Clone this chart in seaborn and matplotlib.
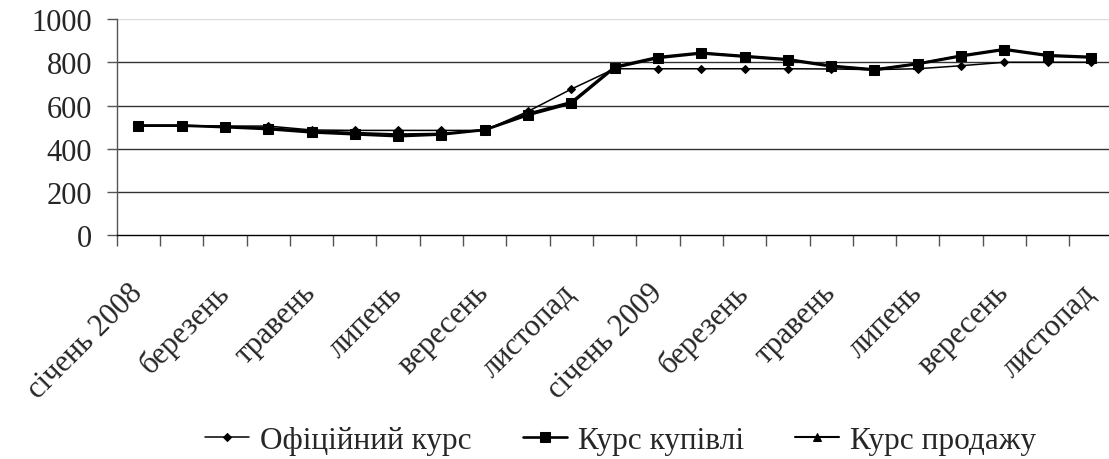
import matplotlib
matplotlib.use("Agg")
import matplotlib.pyplot as plt
import matplotlib.transforms as mtransforms
import seaborn as sns
import pandas as pd
import numpy as np

months = ["січень 2008", "лютий", "березень", "квітень", "травень", "червень",
          "липень", "серпень", "вересень", "жовтень", "листопад", "грудень",
          "січень 2009", "лютий", "березень", "квітень", "травень", "червень",
          "липень", "серпень", "вересень", "жовтень", "листопад"]
official = [505, 505, 505, 505, 487, 485, 485, 485, 485, 573, 676, 770,
            770, 770, 770, 770, 769, 766, 770, 784, 800, 800, 800]
buy = [507, 507, 500, 491, 476, 467, 458, 466, 487, 556, 610, 775,
       820, 841, 826, 811, 781, 764, 792, 828, 858, 830, 822]
sell = [508, 508, 503, 496, 482, 474, 467, 470, 488, 563, 617, 780,
        825, 845, 830, 815, 785, 768, 795, 832, 862, 834, 826]
series_names = ["Офіційний курс", "Курс купівлі", "Курс продажу"]

sns.set_theme(style="white")
plt.rcParams["font.family"] = ["Liberation Serif", "DejaVu Serif"]

idx = np.arange(len(months))
df = pd.DataFrame({"x": np.tile(idx, 3),
                   "value": official + buy + sell,
                   "series": np.repeat(series_names, len(months))})

fig = plt.figure(figsize=(11.09, 4.6), dpi=100)
ax = fig.add_axes([0.1052, 0.4863, 0.8981, 0.4702])

styles = {
    "Офіційний курс": dict(marker="D", markersize=4.5, linewidth=1.1),
    "Курс купівлі": dict(marker="s", markersize=7.5, linewidth=1.9),
    "Курс продажу": dict(marker="^", markersize=5.5, linewidth=1.5),
}
for name in series_names:
    sub = df[df["series"] == name]
    sns.lineplot(data=sub, x="x", y="value", ax=ax, color="black",
                 label=name, markeredgecolor="black", markerfacecolor="black",
                 **styles[name])

ax.set_xlim(-0.5, len(months) - 0.5)
ax.set_ylim(0, 1000)
ax.set_yticks(np.arange(0, 1001, 200))
ax.set_xticks(idx[::2])
ax.set_xticklabels(months[::2], rotation=45, ha="right", va="center",
                   rotation_mode="anchor", fontsize=22)
offset = mtransforms.ScaledTranslation(-0.10, 0, fig.dpi_scale_trans)
for lbl in ax.get_xticklabels():
    lbl.set_transform(lbl.get_transform() + offset)
ax.set_xticks(np.arange(-0.5, len(months), 1), minor=True)
ax.tick_params(axis="x", which="major", length=0, pad=38)
ax.tick_params(axis="x", which="minor", length=8, width=1, color="#555555", direction="out", bottom=True)
ax.tick_params(axis="y", length=7.5, width=1, color="#555555", direction="out", left=True, labelsize=22, pad=10)
ax.set_xlabel("")
ax.set_ylabel("")

for v in [200, 400, 600, 800]:
    ax.axhline(v, color="#333333", linewidth=1.0, zorder=0)
ax.axhline(1000, color="#dddddd", linewidth=1.0, zorder=0)

for s in ["top", "right"]:
    ax.spines[s].set_visible(False)
ax.spines["left"].set_color("#555555")
ax.spines["left"].set_linewidth(1.0)
ax.spines["bottom"].set_color("black")
ax.spines["bottom"].set_linewidth(1.0)

ax.legend(loc="center", bbox_to_anchor=(0.506, -0.95), ncol=3, frameon=False,
          fontsize=22.5, handlelength=1.41, columnspacing=1.63, handletextpad=0.35,
          bbox_transform=ax.transAxes)

fig.savefig("out.png", dpi=100)
